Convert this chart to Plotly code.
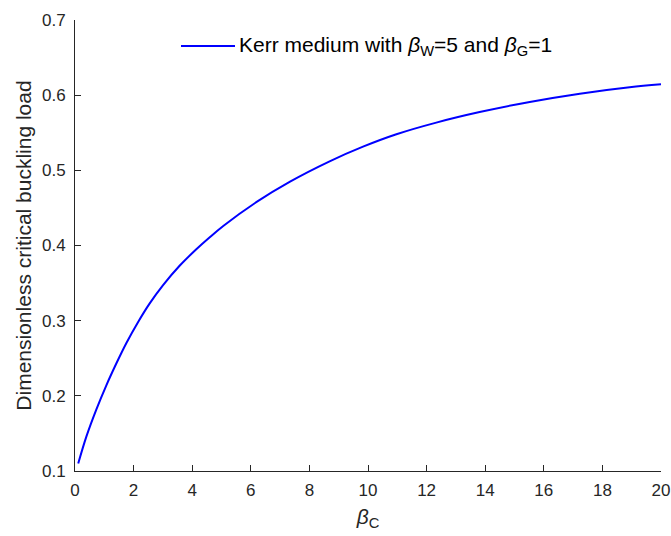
import plotly.graph_objects as go

# Data
beta_c = [0.11, 0.39, 0.73, 1.07, 1.41, 1.75, 2.15, 2.55, 3.0, 3.57, 4.14, 4.57,
          5.06, 6.2, 7.34, 8.69, 9.83, 10.97, 12.33, 13.81, 15.52, 17.23, 18.93, 20.0]
critical_load = [0.110, 0.146, 0.182, 0.214, 0.243, 0.270, 0.298, 0.323, 0.347, 0.373,
                 0.395, 0.410, 0.426, 0.458, 0.485, 0.512, 0.5315, 0.548, 0.5635, 0.5775,
                 0.591, 0.602, 0.6105, 0.6145]
x_ticks = [0, 2, 4, 6, 8, 10, 12, 14, 16, 18, 20]
y_ticks = [0.1, 0.2, 0.3, 0.4, 0.5, 0.6, 0.7]
legend_label = "Kerr medium with <i>β</i><sub>W</sub>=5 and <i>β</i><sub>G</sub>=1"
x_title = "<i>β</i><sub>C</sub>"
y_title = "Dimensionless critical buckling load"

FONT = "Liberation Sans, Arial, Helvetica, sans-serif"
AX = "#262626"

fig = go.Figure()
fig.add_trace(go.Scatter(x=beta_c, y=critical_load, mode="lines",
                         line=dict(color="#0000FF", width=2, shape="spline", smoothing=1.0),
                         name=legend_label, showlegend=False))

axis_common = dict(showgrid=False, zeroline=False, showline=True, linecolor=AX, linewidth=1,
                   ticks="inside", ticklen=6, tickcolor=AX, tickwidth=1,
                   tickfont=dict(family=FONT, size=17, color=AX), mirror=False)

fig.update_xaxes(range=[0, 20], tickvals=x_ticks, ticktext=[str(v) for v in x_ticks],
                 title=dict(text=x_title, font=dict(family=FONT, size=21, color=AX),
                            standoff=9),
                 ticklabelstandoff=4, **axis_common)
fig.update_yaxes(range=[0.1, 0.7], tickvals=y_ticks, ticktext=[f"{v:.1f}" for v in y_ticks],
                 title=dict(text=y_title, font=dict(family=FONT, size=21, color=AX), standoff=4),
                 ticklabelstandoff=5, **axis_common)

# legend drawn manually (line sample + text), no box
ly = (471 - 46) / 451
fig.add_shape(type="line", xref="paper", yref="paper", x0=(181 - 75) / 586, x1=(235 - 75) / 586,
              y0=ly, y1=ly, line=dict(color="#0000FF", width=2))
fig.add_annotation(xref="paper", yref="paper", x=(237 - 75) / 586, y=ly, xanchor="left",
                   yanchor="middle", text=legend_label, showarrow=False,
                   font=dict(family=FONT, size=21, color="#000000"))

fig.update_layout(width=671, height=536, margin=dict(l=75, r=10, t=20, b=65, autoexpand=False),
                  paper_bgcolor="white", plot_bgcolor="white", showlegend=False)

fig.write_html("out.html")
